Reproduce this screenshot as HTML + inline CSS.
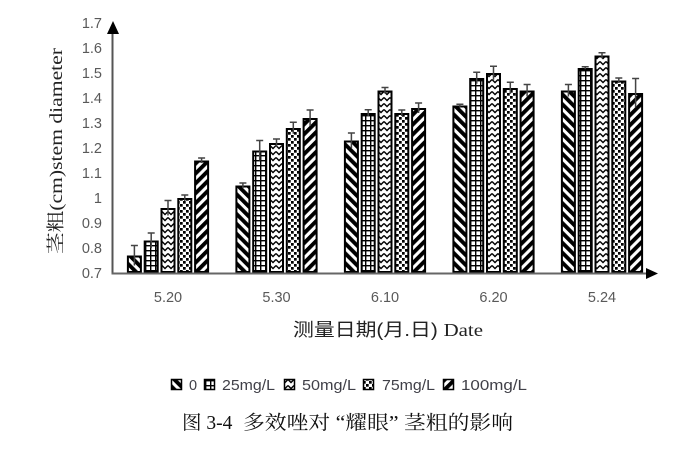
<!DOCTYPE html>
<html><head><meta charset="utf-8"><style>
html,body{margin:0;padding:0;background:#fff;}
svg{display:block;}
</style></head><body>
<svg width="681" height="451" viewBox="0 0 681 451" xmlns="http://www.w3.org/2000/svg">
<defs>
<pattern id="p1" width="7" height="7" patternUnits="userSpaceOnUse" patternTransform="rotate(-45)"><rect width="7" height="7" fill="#fff"/><rect width="3.9" height="7" fill="#000"/></pattern>
<pattern id="p5" width="7" height="7" patternUnits="userSpaceOnUse" patternTransform="rotate(45)"><rect width="7" height="7" fill="#fff"/><rect width="3.9" height="7" fill="#000"/></pattern>
<pattern id="p2" width="5" height="5" patternUnits="userSpaceOnUse"><rect width="5" height="5" fill="#fff"/><rect width="5" height="1.4" fill="#000"/><rect width="1.4" height="5" fill="#000"/></pattern>
<pattern id="p3" width="6" height="6" patternUnits="userSpaceOnUse"><rect width="6" height="6" fill="#fff"/><path d="M0,1.5 L3,4.5 L6,1.5" stroke="#000" stroke-width="1.4" fill="none"/></pattern>
<pattern id="p4" width="6" height="6" patternUnits="userSpaceOnUse"><rect width="6" height="6" fill="#fff"/><rect x="0" y="0" width="2.7" height="2.7" fill="#000"/><rect x="3" y="3" width="2.7" height="2.7" fill="#000"/></pattern>
</defs>

<!-- y tick labels -->
<g font-family="Liberation Sans, sans-serif" font-size="14.5" fill="#595959" text-anchor="end">
<text x="102" y="28">1.7</text>
<text x="102" y="53">1.6</text>
<text x="102" y="78">1.5</text>
<text x="102" y="103">1.4</text>
<text x="102" y="128">1.3</text>
<text x="102" y="153">1.2</text>
<text x="102" y="178">1.1</text>
<text x="102" y="203">1</text>
<text x="102" y="228">0.9</text>
<text x="102" y="253">0.8</text>
<text x="102" y="278">0.7</text>
</g>

<!-- y axis title -->
<text transform="translate(62,151) rotate(-90)" text-anchor="middle" font-family="Liberation Serif, Noto Serif CJK SC, serif" font-size="18" fill="#222" textLength="206" lengthAdjust="spacingAndGlyphs">茎粗(cm)stem diameter</text>

<!-- bars -->
<g stroke="#000" stroke-width="2">
<rect x="127.9" y="256.5" width="13" height="15.5" fill="url(#p1)"/>
<rect x="144.7" y="241.5" width="13" height="30.5" fill="url(#p2)"/>
<rect x="161.5" y="209" width="13" height="63" fill="url(#p3)"/>
<rect x="178.3" y="199" width="13" height="73" fill="url(#p4)"/>
<rect x="195.1" y="161.5" width="13" height="110.5" fill="url(#p5)"/>

<rect x="236.4" y="186.5" width="13" height="85.5" fill="url(#p1)"/>
<rect x="253.2" y="151.5" width="13" height="120.5" fill="url(#p2)"/>
<rect x="270" y="144" width="13" height="128" fill="url(#p3)"/>
<rect x="286.8" y="129" width="13" height="143" fill="url(#p4)"/>
<rect x="303.6" y="119" width="13" height="153" fill="url(#p5)"/>

<rect x="344.9" y="141.5" width="13" height="130.5" fill="url(#p1)"/>
<rect x="361.7" y="114" width="13" height="158" fill="url(#p2)"/>
<rect x="378.5" y="91.5" width="13" height="180.5" fill="url(#p3)"/>
<rect x="395.3" y="114" width="13" height="158" fill="url(#p4)"/>
<rect x="412.1" y="109" width="13" height="163" fill="url(#p5)"/>

<rect x="453.4" y="106.5" width="13" height="165.5" fill="url(#p1)"/>
<rect x="470.2" y="79" width="13" height="193" fill="url(#p2)"/>
<rect x="487" y="74" width="13" height="198" fill="url(#p3)"/>
<rect x="503.8" y="89" width="13" height="183" fill="url(#p4)"/>
<rect x="520.6" y="91.5" width="13" height="180.5" fill="url(#p5)"/>

<rect x="561.9" y="91.5" width="13" height="180.5" fill="url(#p1)"/>
<rect x="578.7" y="69" width="13" height="203" fill="url(#p2)"/>
<rect x="595.5" y="56.5" width="13" height="215.5" fill="url(#p3)"/>
<rect x="612.3" y="81.5" width="13" height="190.5" fill="url(#p4)"/>
<rect x="629.1" y="94" width="13" height="178" fill="url(#p5)"/>
</g>

<!-- error bars -->
<g stroke="#444" stroke-width="1.5" fill="none">
<path d="M134.4,245.5V265.5M130.9,245.5H137.9"/>
<path d="M151.2,233V248M147.7,233H154.7"/>
<path d="M168,200.5V215.5M164.5,200.5H171.5"/>
<path d="M184.8,195V201M181.3,195H188.3"/>
<path d="M201.6,158V163M198.1,158H205.1"/>

<path d="M242.9,183V188M239.4,183H246.4"/>
<path d="M259.7,140.5V160.5M256.2,140.5H263.2"/>
<path d="M276.5,139V147M273,139H280"/>
<path d="M293.3,122.3V133.7M289.8,122.3H296.8"/>
<path d="M310.1,110V126M306.6,110H313.6"/>

<path d="M351.4,133V148M347.9,133H354.9"/>
<path d="M368.2,109.8V116.2M364.7,109.8H371.7"/>
<path d="M385,87.5V93.5M381.5,87.5H388.5"/>
<path d="M401.8,110V116M398.3,110H405.3"/>
<path d="M418.6,103V113M415.1,103H422.1"/>

<path d="M459.9,104.3V106.7M456.4,104.3H463.4"/>
<path d="M476.7,72.3V83.7M473.2,72.3H480.2"/>
<path d="M493.5,66.3V79.7M490,66.3H497"/>
<path d="M510.3,82.3V93.7M506.8,82.3H513.8"/>
<path d="M527.1,84.5V96.5M523.6,84.5H530.6"/>

<path d="M568.4,84.5V96.5M564.9,84.5H571.9"/>
<path d="M585.2,66.8V69.2M581.7,66.8H588.7"/>
<path d="M602,52.8V58.2M598.5,52.8H605.5"/>
<path d="M618.8,78V83M615.3,78H622.3"/>
<path d="M635.6,78.5V107.5M632.1,78.5H639.1"/>
</g>

<!-- axes -->
<line x1="112.5" y1="274" x2="112.5" y2="30" stroke="#555" stroke-width="2"/>
<polygon points="107,34 113,21 119,34" fill="#000"/>
<line x1="111.5" y1="273.5" x2="648" y2="273.5" stroke="#666" stroke-width="2"/>
<polygon points="646,268 658,273.5 646,279" fill="#000"/>

<!-- x tick labels -->
<g font-family="Liberation Sans, sans-serif" font-size="14.5" fill="#595959" text-anchor="middle">
<text x="168" y="302">5.20</text>
<text x="276.5" y="302">5.30</text>
<text x="385" y="302">6.10</text>
<text x="493.5" y="302">6.20</text>
<text x="602" y="302">5.24</text>
</g>

<!-- x axis title -->
<text x="293" y="336" font-family="Liberation Sans, Noto Sans CJK SC, sans-serif" font-size="18" fill="#222" textLength="190" lengthAdjust="spacingAndGlyphs">测量日期(月.日) <tspan font-family="Liberation Serif, serif">Date</tspan></text>

<!-- legend -->
<g stroke="#000" stroke-width="1.5">
<rect x="171.5" y="379.5" width="10" height="10" fill="url(#p1)"/>
<rect x="204.5" y="379.5" width="10" height="10" fill="url(#p2)"/>
<rect x="284.5" y="379.5" width="10" height="10" fill="url(#p3)"/>
<rect x="363.5" y="379.5" width="10" height="10" fill="url(#p4)"/>
<rect x="443.5" y="379.5" width="10" height="10" fill="url(#p5)"/>
</g>
<g font-family="Liberation Sans, sans-serif" font-size="14.5" fill="#404048">
<text x="189" y="390">0</text>
<text x="222" y="390" textLength="53" lengthAdjust="spacingAndGlyphs">25mg/L</text>
<text x="302" y="390" textLength="54" lengthAdjust="spacingAndGlyphs">50mg/L</text>
<text x="382" y="390" textLength="53" lengthAdjust="spacingAndGlyphs">75mg/L</text>
<text x="461" y="390" textLength="66" lengthAdjust="spacingAndGlyphs">100mg/L</text>
</g>

<!-- caption -->
<g font-family="Liberation Serif, Noto Serif CJK SC, serif" font-size="19.5" fill="#111">
<text x="182" y="429">图 3-4</text>
<text x="243" y="429" textLength="270" lengthAdjust="spacingAndGlyphs">多效唑对 “耀眼” 茎粗的影响</text>
</g>
</svg>
</body></html>
